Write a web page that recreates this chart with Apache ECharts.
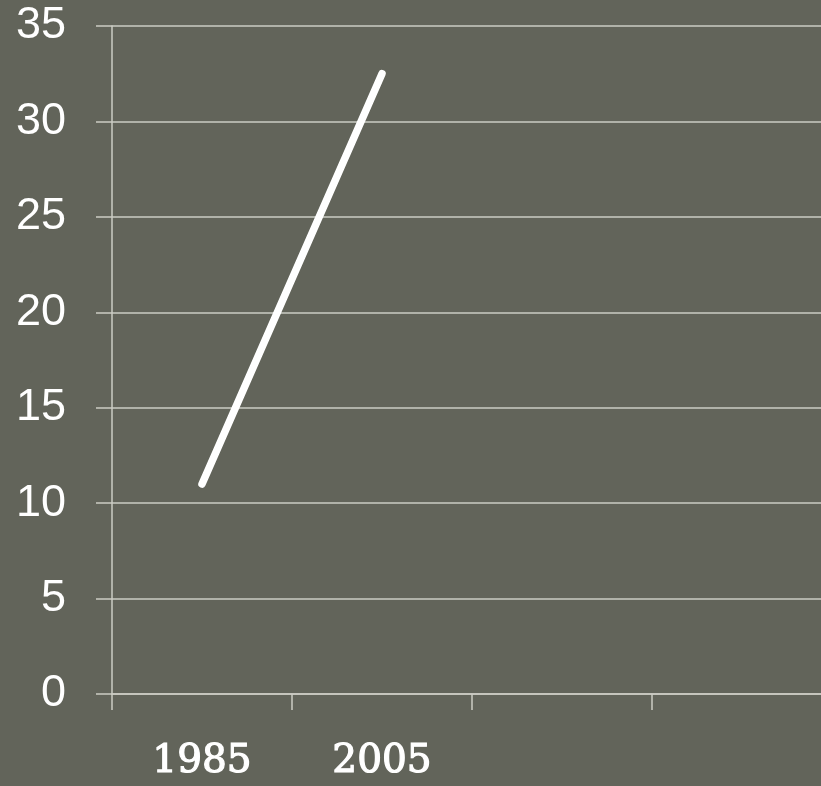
<!DOCTYPE html>
<html>
<head>
<meta charset="utf-8">
<script src="https://cdn.jsdelivr.net/npm/echarts@6/dist/echarts.min.js"></script>
<style>
  html, body { margin: 0; padding: 0; background: #62645a; overflow: hidden; }
  #chart { width: 821px; height: 786px; }
</style>
</head>
<body>
<div id="chart"></div>
<script>
// 資料
const years = ['1985', '2005', '', ''];
const values = [11, 32.5, null, null];
const yTicks = [0, 5, 10, 15, 20, 25, 30, 35];

const chart = echarts.init(document.getElementById('chart'));
const lineColor = '#cbccc4';

const option = {
  backgroundColor: '#62645a',
  animation: false,
  grid: { left: 112, right: -11, top: 26, bottom: 92, outerBoundsMode: 'none', containLabel: false },
  xAxis: {
    type: 'category',
    data: years,
    boundaryGap: true,
    axisLine: { show: true, lineStyle: { color: lineColor, width: 1.5 } },
    axisTick: { show: true, length: 16, lineStyle: { color: lineColor, width: 1.5 } },
    axisLabel: {
      color: '#ffffff',
      fontFamily: 'DejaVu Serif',
      fontSize: 39,
      margin: 48,
      textBorderColor: '#ffffff',
      textBorderWidth: 1.2
    },
    splitLine: { show: false }
  },
  yAxis: {
    type: 'value',
    min: yTicks[0],
    max: yTicks[yTicks.length - 1],
    interval: 5,
    axisLine: { show: true, lineStyle: { color: lineColor, width: 1.5 } },
    axisTick: { show: true, length: 16, lineStyle: { color: lineColor, width: 1.5 } },
    axisLabel: {
      color: '#ffffff',
      fontFamily: 'Liberation Sans',
      fontSize: 45,
      margin: 46
    },
    splitLine: { show: true, lineStyle: { color: lineColor, width: 1.5 } }
  },
  series: [{
    type: 'line',
    data: values,
    symbol: 'none',
    lineStyle: { color: '#ffffff', width: 7.5, cap: 'round' }
  }]
};
chart.setOption(option);
</script>
</body>
</html>
